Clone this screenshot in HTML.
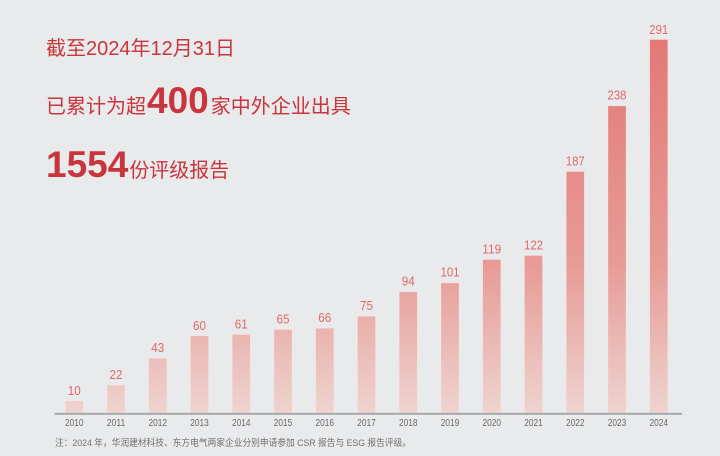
<!DOCTYPE html>
<html><head><meta charset="utf-8"><style>
html,body{margin:0;padding:0;background:#e9eaec;}
svg{display:block;}
</style></head><body>
<svg width="720" height="456" viewBox="0 0 720 456" xmlns="http://www.w3.org/2000/svg">
<defs>
<linearGradient id="g" gradientUnits="userSpaceOnUse" x1="0" y1="40" x2="0" y2="413">
<stop offset="0" stop-color="#e37977"/>
<stop offset="0.6" stop-color="#e79b96"/>
<stop offset="1" stop-color="#eed3cf"/>
</linearGradient>
</defs>
<rect width="720" height="456" fill="#e9eaec"/>
<g font-family="'Liberation Sans','Noto Sans CJK SC',sans-serif" fill="#c9353c">
<text x="46" y="55" font-size="20">截至2024年12月31日</text>
<text x="46" y="113" font-size="20">已累计为超<tspan font-size="37" font-weight="bold" dx="1">400</tspan><tspan dx="2">家中外企业出具</tspan></text>
<text x="46" y="177" font-size="20"><tspan font-size="37" font-weight="bold">1554</tspan><tspan dx="1">份评级报告</tspan></text>
</g>
<g fill="url(#g)" stroke="#f3e6e4" stroke-width="0.8">
<rect x="65" y="400.7" width="18.5" height="12.3"/>
<rect x="106.75" y="385" width="18.5" height="28"/>
<rect x="148.5" y="358" width="18.5" height="55"/>
<rect x="190.25" y="335.7" width="18.5" height="77.3"/>
<rect x="232" y="334.3" width="18.5" height="78.7"/>
<rect x="273.75" y="329.3" width="18.5" height="83.7"/>
<rect x="315.5" y="328" width="18.5" height="85"/>
<rect x="357.25" y="316" width="18.5" height="97"/>
<rect x="399" y="291.7" width="18.5" height="121.3"/>
<rect x="440.75" y="282.7" width="18.5" height="130.3"/>
<rect x="482.5" y="259.3" width="18.5" height="153.7"/>
<rect x="524.25" y="255.3" width="18.5" height="157.7"/>
<rect x="566" y="171.3" width="18.5" height="241.7"/>
<rect x="607.75" y="105.7" width="18.5" height="307.3"/>
<rect x="649.5" y="39.3" width="18.5" height="373.7"/>
</g>
<line x1="54.5" y1="413.8" x2="682" y2="413.8" stroke="#a3a4a6" stroke-width="1.8"/>
<g font-family="'Liberation Sans',sans-serif" font-size="13" fill="#e06868" text-anchor="middle" lengthAdjust="spacingAndGlyphs">
<text x="74.25" y="395" textLength="13" lengthAdjust="spacingAndGlyphs">10</text>
<text x="116" y="379" textLength="13" lengthAdjust="spacingAndGlyphs">22</text>
<text x="157.75" y="352" textLength="13" lengthAdjust="spacingAndGlyphs">43</text>
<text x="199.5" y="330" textLength="13" lengthAdjust="spacingAndGlyphs">60</text>
<text x="241.25" y="328.5" textLength="13" lengthAdjust="spacingAndGlyphs">61</text>
<text x="283" y="323.5" textLength="13" lengthAdjust="spacingAndGlyphs">65</text>
<text x="324.75" y="322" textLength="13" lengthAdjust="spacingAndGlyphs">66</text>
<text x="366.5" y="310" textLength="13" lengthAdjust="spacingAndGlyphs">75</text>
<text x="408.25" y="285.7" textLength="13" lengthAdjust="spacingAndGlyphs">94</text>
<text x="450" y="276.7" textLength="19" lengthAdjust="spacingAndGlyphs">101</text>
<text x="491.75" y="253.3" textLength="19" lengthAdjust="spacingAndGlyphs">119</text>
<text x="533.5" y="249.3" textLength="19" lengthAdjust="spacingAndGlyphs">122</text>
<text x="575.25" y="165.3" textLength="19" lengthAdjust="spacingAndGlyphs">187</text>
<text x="617" y="99.5" textLength="19" lengthAdjust="spacingAndGlyphs">238</text>
<text x="658.75" y="34" textLength="19" lengthAdjust="spacingAndGlyphs">291</text>
</g>
<g font-family="'Liberation Sans',sans-serif" font-size="10" fill="#6a6a6a" text-anchor="middle">
<text x="74.25" y="426" textLength="18.5" lengthAdjust="spacingAndGlyphs">2010</text>
<text x="116" y="426" textLength="18.5" lengthAdjust="spacingAndGlyphs">2011</text>
<text x="157.75" y="426" textLength="18.5" lengthAdjust="spacingAndGlyphs">2012</text>
<text x="199.5" y="426" textLength="18.5" lengthAdjust="spacingAndGlyphs">2013</text>
<text x="241.25" y="426" textLength="18.5" lengthAdjust="spacingAndGlyphs">2014</text>
<text x="283" y="426" textLength="18.5" lengthAdjust="spacingAndGlyphs">2015</text>
<text x="324.75" y="426" textLength="18.5" lengthAdjust="spacingAndGlyphs">2016</text>
<text x="366.5" y="426" textLength="18.5" lengthAdjust="spacingAndGlyphs">2017</text>
<text x="408.25" y="426" textLength="18.5" lengthAdjust="spacingAndGlyphs">2018</text>
<text x="450" y="426" textLength="18.5" lengthAdjust="spacingAndGlyphs">2019</text>
<text x="491.75" y="426" textLength="18.5" lengthAdjust="spacingAndGlyphs">2020</text>
<text x="533.5" y="426" textLength="18.5" lengthAdjust="spacingAndGlyphs">2021</text>
<text x="575.25" y="426" textLength="18.5" lengthAdjust="spacingAndGlyphs">2022</text>
<text x="617" y="426" textLength="18.5" lengthAdjust="spacingAndGlyphs">2023</text>
<text x="658.75" y="426" textLength="18.5" lengthAdjust="spacingAndGlyphs">2024</text>
</g>
<text x="55" y="446" font-family="'Liberation Sans','Noto Sans CJK SC',sans-serif" font-size="9.5" fill="#707070" textLength="356" lengthAdjust="spacingAndGlyphs">注：2024 年，华润建材科技、东方电气两家企业分别申请参加 CSR 报告与 ESG 报告评级。</text>
</svg>
</body></html>
